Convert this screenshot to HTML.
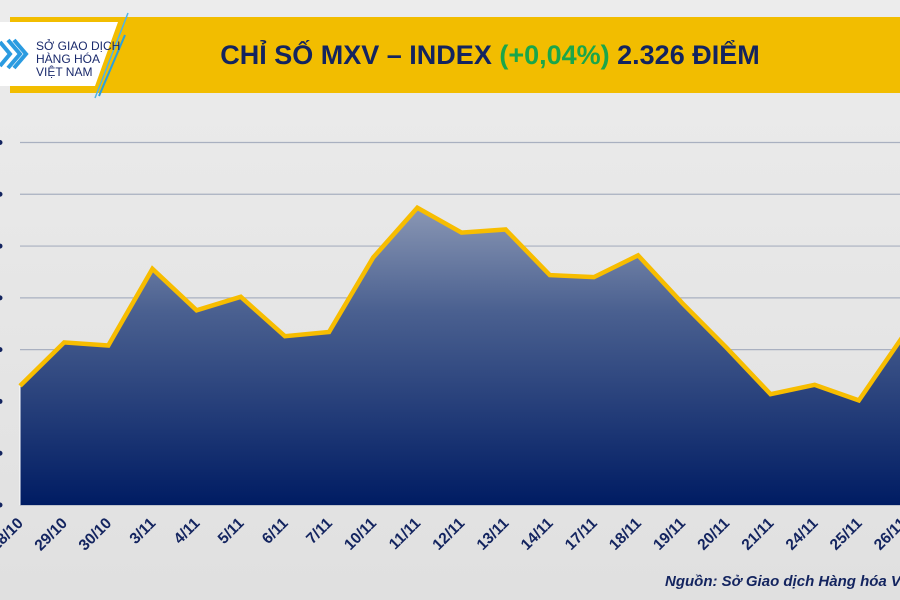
<!DOCTYPE html>
<html><head><meta charset="utf-8"><style>
html,body{margin:0;padding:0;width:900px;height:600px;overflow:hidden;background:#e4e4e4;font-family:"Liberation Sans",sans-serif}
</style></head><body>
<svg id="c" width="900" height="600" xmlns="http://www.w3.org/2000/svg">
<defs>
<linearGradient id="bg" x1="0" y1="0" x2="0" y2="1"><stop offset="0" stop-color="#ececec"/><stop offset="1" stop-color="#e0e0e0"/></linearGradient>
<linearGradient id="fill" x1="0" y1="0" x2="0" y2="1"><stop offset="0" stop-color="#8a97b4"/><stop offset="0.35" stop-color="#4a6090"/><stop offset="1" stop-color="#001c63"/></linearGradient>
</defs>
<rect width="900" height="600" fill="url(#bg)"/>
<rect x="10" y="17" width="890" height="76" fill="#f2bd00"/>
<polygon points="0,22 118,22 95,86 0,86" fill="#ffffff"/>
<line x1="128" y1="13" x2="95" y2="98" stroke="#4fb3e8" stroke-width="1.5"/>
<line x1="125" y1="35" x2="99" y2="96" stroke="#2aa0e0" stroke-width="2"/>
<g fill="none" stroke="#2b9be0" stroke-width="4">
<polyline points="0,42 10,54 0,66"/><polyline points="8,40 20,54 8,68"/><polyline points="14,40 26,54 14,68"/>
</g>
<text x="36" y="50" font-size="12" fill="#1a2a6c">SỞ GIAO DỊCH</text>
<text x="36" y="63" font-size="12" fill="#1a2a6c">HÀNG HÓA</text>
<text x="36" y="76" font-size="12" fill="#1a2a6c">VIỆT NAM</text>
<text x="490" y="64" text-anchor="middle" font-size="27" font-weight="bold" fill="#13245f">CHỈ SỐ MXV – INDEX <tspan fill="#1aa64a">(+0,04%)</tspan> 2.326 ĐIỂM</text>
<g id="grid"></g>
<g id="plot"></g>
<g id="xl"></g>
<text x="665" y="586" font-size="15" font-style="italic" font-weight="bold" fill="#13245f">Nguồn: Sở Giao dịch Hàng hóa Việt Nam</text>
</svg>
<script>
const categories=["28/10","29/10","30/10","3/11","4/11","5/11","6/11","7/11","10/11","11/11","12/11","13/11","14/11","17/11","18/11","19/11","20/11","21/11","24/11","25/11","26/11"];
const values=[2215,2257,2254,2328,2288,2301,2263,2267,2339,2387,2363,2366,2322,2320,2341,2295,2252,2207,2216,2201,2263];
const yTicks=[2100,2150,2200,2250,2300,2350,2400,2450];
const NS="http://www.w3.org/2000/svg";
const x0=20,step=44.15,yMin=2100,yMax=2450,yB=505,yT=142.5;
const xs=i=>x0+i*step;
const ys=v=>yB-(v-yMin)/(yMax-yMin)*(yB-yT);
function mk(t,a,p){const e=document.createElementNS(NS,t);for(const k in a)e.setAttribute(k,a[k]);p.appendChild(e);return e;}
const grid=document.getElementById('grid'),plot=document.getElementById('plot'),xl=document.getElementById('xl');
yTicks.forEach(v=>{
 const l=mk('line',{x1:20,x2:900,y1:ys(v),y2:ys(v),stroke:'#a9b0c0','stroke-width':1.2},grid);
 
 
 const c=mk('circle',{cx:0,cy:ys(v),r:2.5,fill:'#13245f'},grid);
 
 
});
let pts=values.map((v,i)=>xs(i)+','+ys(v)).join(' ');
const area=mk('polygon',{points:xs(0)+','+yB+' '+pts+' '+xs(values.length-1)+','+yB,fill:'url(#fill)'},plot);


const line=mk('polyline',{points:pts,fill:'none',stroke:'#f7bd00','stroke-width':4.5,'stroke-linejoin':'miter'},plot);


mk('line',{x1:20,x2:20,y1:ys(values[0]),y2:yB,stroke:'#ffffff','stroke-width':1},plot);
categories.forEach((c,i)=>{
 const ax=xs(i)+4, ay=524;
 const t=mk('text',{x:ax,y:ay,'text-anchor':'end','font-size':15.5,'font-weight':'bold',fill:'#13245f',transform:'rotate(-45 '+ax+' '+ay+')'},xl);
 t.textContent=c;
 
 
});
</script>
</body></html>
